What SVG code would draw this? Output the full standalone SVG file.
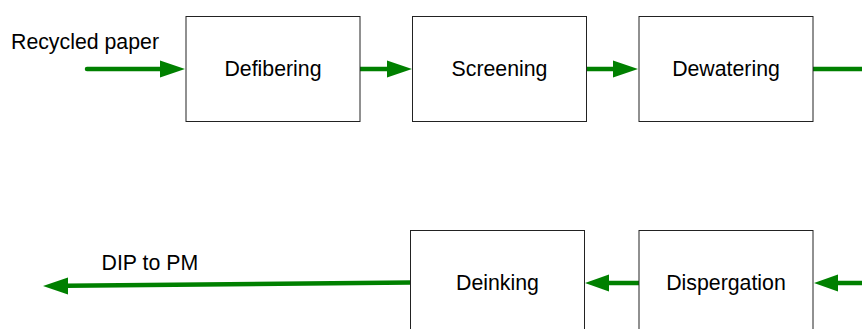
<svg xmlns="http://www.w3.org/2000/svg" width="862" height="329" viewBox="0 0 862 329">
<style>
.box{fill:#fff;stroke:#222;stroke-width:1}
.t{font-family:"Liberation Sans",Arial,sans-serif;font-size:21.3px;fill:#000}
.c{text-anchor:middle}
.ln{stroke:#008000;stroke-width:4.5;stroke-linecap:round;fill:none}
.hd{fill:#008000}
</style>
<rect width="862" height="329" fill="#fff"/>
<g id="connectors">
<line class="ln" x1="87" y1="69" x2="162" y2="69"/>
<polygon class="hd" points="185,69 160,60.5 160,77.5"/>
<line class="ln" x1="359" y1="69" x2="389" y2="69"/>
<polygon class="hd" points="412,69 387,60.5 387,77.5"/>
<line class="ln" x1="585" y1="69" x2="615" y2="69"/>
<polygon class="hd" points="638,69 613,60.5 613,77.5"/>
<line class="ln" x1="812" y1="69" x2="866" y2="69"/>
<line class="ln" x1="866" y1="283" x2="836" y2="283"/>
<polygon class="hd" points="814,283 838,274.5 838,291.5"/>
<line class="ln" x1="640" y1="283" x2="607" y2="283"/>
<polygon class="hd" points="585,283 609,274.5 609,291.5"/>
<line class="ln" x1="411" y1="282.5" x2="66" y2="285.8"/>
<polygon class="hd" points="43,286 68,277.5 68,294.5"/>
</g>
<g id="defibering"><rect class="box" x="186" y="16.5" width="174" height="105"/><text class="t c" x="273" y="76">Defibering</text></g>
<g id="screening"><rect class="box" x="412.5" y="16.5" width="174" height="105"/><text class="t c" x="499.5" y="76">Screening</text></g>
<g id="dewatering"><rect class="box" x="639" y="16.5" width="174" height="105"/><text class="t c" x="726" y="76">Dewatering</text></g>
<g id="deinking"><rect class="box" x="410.5" y="230.5" width="174" height="110"/><text class="t c" x="497.5" y="289.5">Deinking</text></g>
<g id="dispergation"><rect class="box" x="639" y="230.5" width="174" height="110"/><text class="t c" x="726" y="289.5">Dispergation</text></g>
<g id="labels">
<text class="t" x="11" y="48.5">Recycled paper</text>
<text class="t" x="101.5" y="269.5">DIP to PM</text>
</g>
</svg>
